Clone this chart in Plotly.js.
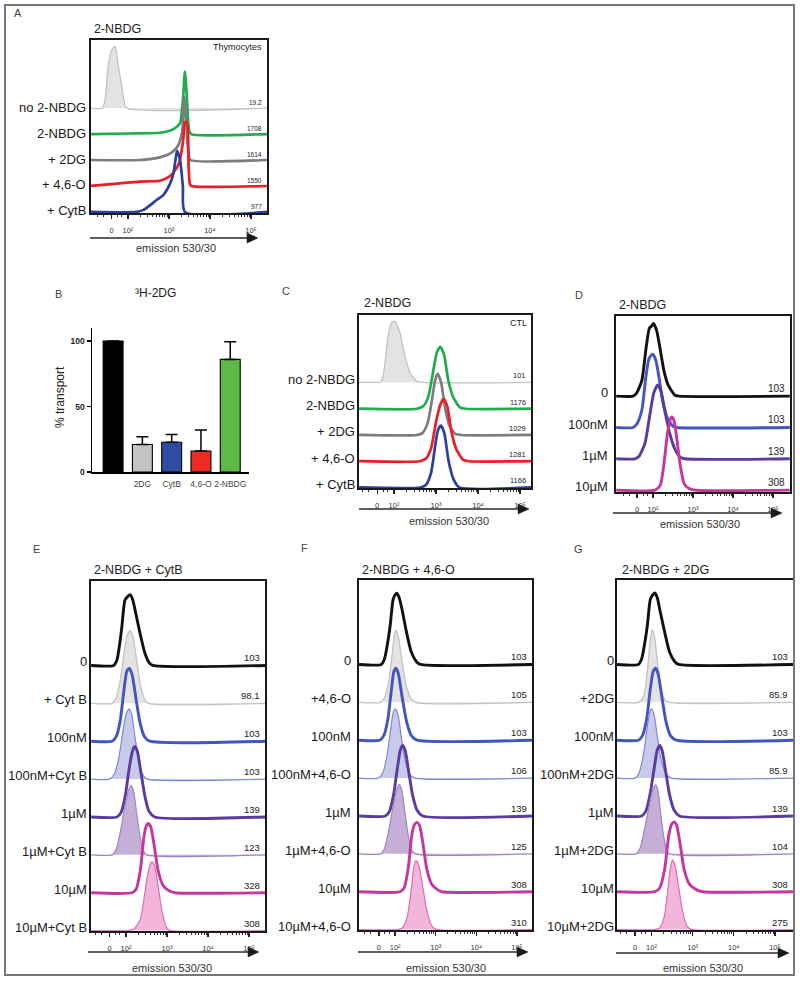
<!DOCTYPE html>
<html><head><meta charset="utf-8">
<script src="https://cdn.plot.ly/plotly-3.0.1.min.js"></script>
<style>html,body{margin:0;padding:0;background:#fff}</style>
</head><body><div id="chart" style="width:800px;height:983px"></div>
<script>
// ---------- shared axis labels ----------
const emissionTickVals = [1.6, 2, 3, 4, 5];
const emissionTickText = ['0', '10²', '10³', '10⁴', '10⁵'];

// ---------- Panel A (thymocytes) ----------
const aRows  = ['no 2-NBDG', '2-NBDG', '+ 2DG', '+ 4,6-O', '+ CytB'];
const aMeans = ['19.2', '1708', '1614', '1550', '977'];
const aX0 = [1.1, 1.38, 1.45, 1.52, 1.6, 1.685, 1.77, 1.85, 1.9, 1.97, 5.39];
const aY0 = [0, 0, 0.4, 1.59, 2.23, 2.38, 1.59, 0.82, 0.31, 0, 0];
const aX1 = [1.1, 2.05, 2.78, 3.0, 3.15, 3.27, 3.34, 3.39, 3.44, 3.49, 3.54, 5.39];
const aY1 = [0, 0.02, 0.05, 0.12, 0.23, 0.42, 1.3, 2.4, 1.3, 0.15, 0, 0];
const aX2 = [1.1, 2.3, 2.78, 3.08, 3.22, 3.32, 3.38, 3.44, 3.48, 3.52, 5.39];
const aY2 = [0, 0, 0.1, 0.3, 0.55, 1.08, 2.42, 1.0, 0.2, 0, 0];
const aX3 = [1.1, 1.8, 2.3, 2.78, 3.0, 3.12, 3.25, 3.35, 3.39, 3.44, 3.48, 3.51, 3.55, 5.39];
const aY3 = [0, 0.1, 0.17, 0.2, 0.35, 0.54, 0.9, 1.8, 2.46, 2.46, 0.77, 0.08, 0, 0];
const aX4 = [1.1, 2.2, 2.38, 2.7, 2.86, 3.03, 3.11, 3.17, 3.2, 3.27, 3.34, 3.39, 5.39];
const aY4 = [0, 0, 0.08, 0.46, 0.65, 1.1, 1.49, 2.13, 2.35, 2.0, 0.97, 0, 0];

// ---------- Panel B (3H-2DG transport) ----------
const bCats   = ['', '2DG', 'CytB', '4,6-O', '2-NBDG'];
const bValues = [100, 21, 22.7, 16, 86];
const bErrors = [0, 6, 6, 16, 13.5];
const bColors = ['#000000', '#c3c3c3', '#2e4ca2', '#ee2a24', '#5dba47'];

// ---------- Panel C (CTL) ----------
const cRows  = ['no 2-NBDG', '2-NBDG', '+ 2DG', '+ 4,6-O', '+ CytB'];
const cMeans = ['101', '1176', '1029', '1281', '1166'];
const cX0 = [1.17, 1.6, 1.67, 1.74, 1.86, 1.94, 2.02, 2.14, 2.26, 2.38, 2.54, 2.67, 5.26];
const cY0 = [0, 0, 0, 0.24, 1.77, 2.28, 2.33, 1.9, 1.0, 0.38, 0.05, 0, 0];
const cX1 = [1.17, 2.55, 2.7, 2.82, 2.94, 3.02, 3.1, 3.19, 3.29, 3.41, 3.57, 3.7, 5.26];
const cY1 = [0, 0, 0.1, 0.48, 1.5, 2.14, 2.36, 2.07, 1.1, 0.43, 0.05, 0, 0];
const cX2 = [1.17, 2.55, 2.68, 2.8, 2.9, 2.98, 3.04, 3.12, 3.22, 3.32, 3.45, 3.6, 5.26];
const cY2 = [0, 0, 0.08, 0.45, 1.3, 2.1, 2.33, 2.0, 1.0, 0.35, 0.05, 0, 0];
const cX3 = [1.17, 2.62, 2.76, 2.88, 3.0, 3.1, 3.18, 3.27, 3.37, 3.49, 3.65, 3.78, 5.26];
const cY3 = [0, 0, 0.1, 0.48, 1.5, 2.14, 2.38, 2.07, 1.1, 0.43, 0.05, 0, 0];
const cX4 = [1.17, 2.62, 2.76, 2.88, 2.98, 3.05, 3.12, 3.2, 3.3, 3.42, 3.56, 5.26];
const cY4 = [0, 0, 0.1, 0.55, 1.6, 2.2, 2.36, 2.05, 1.0, 0.3, 0, 0];

// ---------- Panel D (2-NBDG dose) ----------
const dRows  = ['0', '100nM', '1µM', '10µM'];
const dMeans = ['103', '103', '139', '308'];
const dX0 = [1.08, 1.5, 1.59, 1.72, 1.83, 1.91, 1.97, 2.01, 2.09, 2.17, 2.27, 2.38, 2.55, 2.65, 5.42];
const dY0 = [0, 0, 0.1, 0.5, 1.57, 2.17, 2.25, 2.32, 2.1, 1.57, 0.83, 0.35, 0.03, 0, 0];
const dX1 = [1.08, 1.5, 1.6, 1.72, 1.82, 1.9, 1.99, 2.07, 2.15, 2.25, 2.36, 2.5, 2.6, 5.42];
const dY1 = [0, 0, 0.12, 0.55, 1.6, 2.2, 2.34, 2.15, 1.6, 0.8, 0.3, 0.04, 0, 0];
const dX2 = [1.08, 1.55, 1.65, 1.8, 1.92, 2.02, 2.12, 2.2, 2.3, 2.42, 2.55, 2.68, 2.8, 5.42];
const dY2 = [0, 0, 0.08, 0.5, 1.4, 2.1, 2.36, 2.15, 1.5, 0.8, 0.3, 0.05, 0, 0];
const dX3 = [1.08, 2.05, 2.18, 2.28, 2.36, 2.43, 2.47, 2.53, 2.6, 2.68, 2.78, 2.9, 3.05, 5.42];
const dY3 = [0, 0, 0.15, 0.9, 1.8, 2.25, 2.34, 2.2, 1.6, 0.8, 0.2, 0.05, 0, 0];

// ---------- Panel E (2-NBDG + CytB) ----------
const eRows  = ['0', '+ Cyt B', '100nM', '100nM+Cyt B', '1µM', '1µM+Cyt B', '10µM', '10µM+Cyt B'];
const eMeans = ['103', '98.1', '103', '103', '139', '123', '328', '308'];
const eX0 = [1.15, 1.7, 1.78, 1.85, 1.9, 1.975, 2.05, 2.1, 2.16, 2.22, 2.34, 2.46, 2.56, 2.65, 5.39];
const eY0 = [0, 0, 0.15, 0.6, 1.03, 1.73, 1.83, 1.87, 1.75, 1.47, 0.86, 0.33, 0.08, 0, 0];
const eX1 = [1.15, 1.66, 1.75, 1.85, 1.95, 2.03, 2.1, 2.17, 2.25, 2.35, 2.45, 2.55, 5.39];
const eY1 = [0, 0, 0.12, 0.55, 1.3, 1.8, 1.91, 1.75, 1.2, 0.5, 0.12, 0, 0];
const eX2 = [1.15, 1.66, 1.76, 1.86, 1.95, 2.02, 2.08, 2.15, 2.24, 2.34, 2.45, 2.58, 5.39];
const eY2 = [0, 0, 0.12, 0.55, 1.35, 1.85, 1.92, 1.75, 1.15, 0.5, 0.12, 0, 0];
const eX3 = [1.15, 1.6, 1.72, 1.83, 1.93, 2.01, 2.08, 2.14, 2.22, 2.32, 2.42, 2.52, 5.39];
const eY3 = [0, 0, 0.15, 0.6, 1.3, 1.75, 1.85, 1.7, 1.1, 0.45, 0.1, 0, 0];
const eX4 = [1.15, 1.78, 1.88, 1.98, 2.08, 2.16, 2.22, 2.28, 2.36, 2.46, 2.56, 2.7, 5.39];
const eY4 = [0, 0, 0.12, 0.55, 1.3, 1.75, 1.86, 1.72, 1.2, 0.55, 0.15, 0, 0];
const eX5 = [1.15, 1.66, 1.76, 1.86, 1.96, 2.06, 2.12, 2.18, 2.26, 2.34, 2.42, 2.5, 5.39];
const eY5 = [0, 0, 0.15, 0.6, 1.2, 1.7, 1.83, 1.7, 1.1, 0.5, 0.12, 0, 0];
const eX6 = [1.15, 2.15, 2.25, 2.35, 2.44, 2.5, 2.54, 2.6, 2.68, 2.78, 2.9, 3.05, 3.2, 5.39];
const eY6 = [0, 0, 0.1, 0.6, 1.5, 1.78, 1.83, 1.75, 1.3, 0.6, 0.2, 0.05, 0, 0];
const eX7 = [1.15, 2.05, 2.2, 2.35, 2.46, 2.55, 2.63, 2.7, 2.78, 2.88, 2.98, 3.08, 5.39];
const eY7 = [0, 0, 0.05, 0.3, 1.0, 1.6, 1.82, 1.7, 1.2, 0.5, 0.1, 0, 0];

// ---------- Panel F (2-NBDG + 4,6-O) ----------
const fRows  = ['0', '+4,6-O', '100nM', '100nM+4,6-O', '1µM', '1µM+4,6-O', '10µM', '10µM+4,6-O'];
const fMeans = ['103', '105', '103', '106', '139', '125', '308', '310'];
const fX0 = [1.11, 1.66, 1.74, 1.82, 1.88, 1.95, 2.0, 2.04, 2.1, 2.17, 2.28, 2.4, 2.52, 2.62, 5.37];
const fY0 = [0, 0, 0.15, 0.6, 1.05, 1.72, 1.84, 1.88, 1.76, 1.45, 0.85, 0.32, 0.08, 0, 0];
const fX1 = [1.11, 1.64, 1.74, 1.84, 1.93, 1.98, 2.02, 2.08, 2.16, 2.26, 2.38, 2.5, 5.37];
const fY1 = [0, 0, 0.12, 0.55, 1.3, 1.78, 1.9, 1.72, 1.15, 0.5, 0.12, 0, 0];
const fX2 = [1.11, 1.62, 1.72, 1.82, 1.91, 1.97, 2.02, 2.08, 2.17, 2.28, 2.4, 2.54, 5.37];
const fY2 = [0, 0, 0.12, 0.55, 1.35, 1.82, 1.9, 1.75, 1.15, 0.5, 0.12, 0, 0];
const fX3 = [1.11, 1.58, 1.7, 1.8, 1.89, 1.95, 2.0, 2.07, 2.15, 2.25, 2.36, 2.48, 5.37];
const fY3 = [0, 0, 0.15, 0.6, 1.3, 1.72, 1.83, 1.68, 1.1, 0.45, 0.1, 0, 0];
const fX4 = [1.11, 1.76, 1.86, 1.96, 2.06, 2.13, 2.19, 2.25, 2.33, 2.43, 2.54, 2.68, 5.37];
const fY4 = [0, 0, 0.12, 0.55, 1.3, 1.75, 1.86, 1.72, 1.2, 0.55, 0.15, 0, 0];
const fX5 = [1.11, 1.64, 1.74, 1.84, 1.94, 2.04, 2.1, 2.16, 2.24, 2.32, 2.4, 2.5, 5.37];
const fY5 = [0, 0, 0.15, 0.6, 1.2, 1.7, 1.83, 1.7, 1.1, 0.5, 0.12, 0, 0];
const fX6 = [1.11, 2.12, 2.22, 2.32, 2.41, 2.48, 2.53, 2.6, 2.68, 2.78, 2.9, 3.05, 3.15, 5.37];
const fY6 = [0, 0, 0.1, 0.6, 1.5, 1.78, 1.83, 1.75, 1.3, 0.6, 0.2, 0.05, 0, 0];
const fX7 = [1.11, 2.05, 2.18, 2.3, 2.4, 2.46, 2.51, 2.58, 2.67, 2.78, 2.9, 3.02, 5.37];
const fY7 = [0, 0, 0.05, 0.35, 1.1, 1.65, 1.82, 1.7, 1.2, 0.5, 0.1, 0, 0];

// ---------- Panel G (2-NBDG + 2DG) ----------
const gRows  = ['0', '+2DG', '100nM', '100nM+2DG', '1µM', '1µM+2DG', '10µM', '10µM+2DG'];
const gMeans = ['103', '85.9', '103', '85.9', '139', '104', '308', '275'];
const gX0 = [1.16, 1.68, 1.76, 1.84, 1.9, 1.97, 2.03, 2.08, 2.14, 2.2, 2.32, 2.44, 2.56, 2.66, 5.44];
const gY0 = [0, 0, 0.15, 0.6, 1.05, 1.72, 1.84, 1.89, 1.76, 1.45, 0.85, 0.32, 0.08, 0, 0];
const gX1 = [1.16, 1.68, 1.78, 1.86, 1.93, 1.98, 2.02, 2.07, 2.14, 2.22, 2.32, 2.44, 5.44];
const gY1 = [0, 0, 0.1, 0.45, 1.2, 1.75, 1.92, 1.75, 1.1, 0.4, 0.08, 0, 0];
const gX2 = [1.16, 1.68, 1.78, 1.88, 1.97, 2.04, 2.1, 2.16, 2.25, 2.35, 2.46, 2.6, 5.44];
const gY2 = [0, 0, 0.12, 0.55, 1.35, 1.82, 1.9, 1.75, 1.15, 0.5, 0.12, 0, 0];
const gX3 = [1.16, 1.6, 1.7, 1.8, 1.89, 1.95, 2.0, 2.06, 2.14, 2.24, 2.36, 2.48, 5.44];
const gY3 = [0, 0, 0.15, 0.6, 1.3, 1.72, 1.83, 1.68, 1.1, 0.45, 0.1, 0, 0];
const gX4 = [1.16, 1.76, 1.86, 1.96, 2.07, 2.14, 2.2, 2.26, 2.34, 2.44, 2.55, 2.68, 5.44];
const gY4 = [0, 0, 0.12, 0.55, 1.3, 1.75, 1.86, 1.72, 1.2, 0.55, 0.15, 0, 0];
const gX5 = [1.16, 1.62, 1.72, 1.82, 1.93, 2.03, 2.1, 2.15, 2.22, 2.29, 2.36, 2.44, 5.44];
const gY5 = [0, 0, 0.15, 0.6, 1.2, 1.7, 1.82, 1.7, 1.1, 0.5, 0.12, 0, 0];
const gX6 = [1.16, 2.08, 2.2, 2.32, 2.42, 2.49, 2.55, 2.61, 2.69, 2.79, 2.92, 3.1, 3.25, 5.44];
const gY6 = [0, 0, 0.1, 0.6, 1.5, 1.78, 1.84, 1.75, 1.3, 0.6, 0.2, 0.05, 0, 0];
const gX7 = [1.16, 2.08, 2.2, 2.31, 2.4, 2.46, 2.51, 2.57, 2.65, 2.75, 2.86, 2.98, 5.44];
const gY7 = [0, 0, 0.05, 0.35, 1.1, 1.65, 1.84, 1.7, 1.2, 0.5, 0.1, 0, 0];

// ---------- styles ----------
const STY = {
  fillGrey:   {line: '#c2c2c2', w: 1.3, fill: '#e3e3e3'},
  green:      {line: '#1fae4b', w: 2.7},
  grey:       {line: '#7d7d7d', w: 2.7},
  red:        {line: '#ee1d23', w: 2.7},
  navy:       {line: '#2b409f', w: 2.7},
  black:      {line: '#111111', w: 2.9},
  blue:       {line: '#4255c2', w: 2.9},
  purple:     {line: '#5a3c9e', w: 2.9},
  magenta:    {line: '#c5389b', w: 2.9},
  fillBlue:   {line: '#8188d6', w: 1.2, fill: '#c8caeb'},
  fillPurple: {line: '#9c86c5', w: 1.2, fill: '#c6afd6'},
  fillPink:   {line: '#dd6db8', w: 1.2, fill: '#f3b5da'}
};
const FONT = 'Liberation Sans, Arial, Helvetica, DejaVu Sans, sans-serif';
const W = 800, H = 983;
const px = v => v / W;
const py = v => 1 - v / H;

const panels = [
  {id: '', box: [91, 267, 40, 213], xr: [1.1, 5.39], yr: [-0.04, 6.62], rows: aRows, means: aMeans,
   curves: [[aX0, aY0, 'fillGrey'], [aX1, aY1, 'green'], [aX2, aY2, 'grey'], [aX3, aY3, 'red'], [aX4, aY4, 'navy']],
   labX: 88, labShift: 1, labSize: 13, valSize: 6.5,
   arrow: [90, 258, 238], emis: [176, 248], title: ['2-NBDG', 92, 29], letter: ['A', 12, 13]},
  {id: '3', box: [359, 531, 315, 488], xr: [1.167, 5.26], yr: [-0.02, 6.57], rows: cRows, means: cMeans,
   curves: [[cX0, cY0, 'fillGrey'], [cX1, cY1, 'green'], [cX2, cY2, 'grey'], [cX3, cY3, 'red'], [cX4, cY4, 'navy']],
   labX: 356.5, labShift: 3, labSize: 13, valSize: 7.5,
   arrow: [359, 529, 509], emis: [449, 521], title: ['2-NBDG', 362, 303], letter: ['C', 280, 291]},
  {id: '4', box: [616, 790, 316, 492], xr: [1.075, 5.425], yr: [-0.06, 5.56], rows: dRows, means: dMeans,
   curves: [[dX0, dY0, 'black'], [dX1, dY1, 'blue'], [dX2, dY2, 'purple'], [dX3, dY3, 'magenta']],
   labX: 610, labShift: 3.3, labSize: 13, valSize: 10,
   arrow: [613, 782, 513], emis: [700, 524], title: ['2-NBDG', 617, 305], letter: ['D', 573, 295]},
  {id: '5', box: [91, 265, 581, 931], xr: [1.146, 5.39], yr: [-0.01, 9.23], rows: eRows, means: eMeans,
   curves: [[eX0, eY0, 'black'], [eX1, eY1, 'fillGrey'], [eX2, eY2, 'blue'], [eX3, eY3, 'fillBlue'],
            [eX4, eY4, 'purple'], [eX5, eY5, 'fillPurple'], [eX6, eY6, 'magenta'], [eX7, eY7, 'fillPink']],
   labX: 89, labShift: 3.5, labSize: 13, valSize: 9.5,
   arrow: [88, 259, 952], emis: [172, 968], title: ['2-NBDG + CytB', 92, 570], letter: ['E', 31, 549]},
  {id: '6', box: [359, 532, 580, 930], xr: [1.11, 5.37], yr: [-0.01, 9.23], rows: fRows, means: fMeans,
   curves: [[fX0, fY0, 'black'], [fX1, fY1, 'fillGrey'], [fX2, fY2, 'blue'], [fX3, fY3, 'fillBlue'],
            [fX4, fY4, 'purple'], [fX5, fY5, 'fillPurple'], [fX6, fY6, 'magenta'], [fX7, fY7, 'fillPink']],
   labX: 353, labShift: 3.5, labSize: 13, valSize: 9.5,
   arrow: [358, 528, 952], emis: [446, 968], title: ['2-NBDG + 4,6-O', 360, 570], letter: ['F', 299, 548]},
  {id: '7', box: [617, 793, 580, 930], xr: [1.16, 5.44], yr: [-0.01, 9.23], rows: gRows, means: gMeans,
   curves: [[gX0, gY0, 'black'], [gX1, gY1, 'fillGrey'], [gX2, gY2, 'blue'], [gX3, gY3, 'fillBlue'],
            [gX4, gY4, 'purple'], [gX5, gY5, 'fillPurple'], [gX6, gY6, 'magenta'], [gX7, gY7, 'fillPink']],
   labX: 615.5, labShift: 3.5, labSize: 13, valSize: 9.5,
   arrow: [616, 789, 953], emis: [703, 968], title: ['2-NBDG + 2DG', 620, 570], letter: ['G', 572, 549]}
];

// minor ticks of the biexponential axis
const minorVals = [1.25, 1.4, 1.75, 1.85];
for (let d = 2; d <= 4; d++) for (let k = 2; k <= 9; k++) minorVals.push(d + Math.log10(k));

const traces = [];
const annotations = [];
const shapes = [{type: 'rect', xref: 'paper', yref: 'paper', x0: px(5), x1: px(794), y0: py(975), y1: py(5),
                 line: {color: '#777777', width: 2}}];
const layout = {
  width: W, height: H, margin: {l: 0, r: 0, t: 0, b: 0},
  paper_bgcolor: '#ffffff', plot_bgcolor: 'rgba(0,0,0,0)',
  showlegend: false, font: {family: FONT, color: '#222'},
  annotations: annotations, shapes: shapes
};

function ann(o) { annotations.push(Object.assign({showarrow: false, xref: 'paper', yref: 'paper'}, o)); }

function arrowShapes(x0, x1, y) {
  const headL = 11, headH = 5;
  shapes.push({type: 'line', xref: 'paper', yref: 'paper', x0: px(x0), x1: px(x1 - headL + 1), y0: py(y), y1: py(y),
               line: {color: '#2a2a2a', width: 1.6}});
  shapes.push({type: 'path', xref: 'paper', yref: 'paper',
               path: 'M ' + px(x1 - headL) + ' ' + py(y - headH) + ' L ' + px(x1) + ' ' + py(y) +
                     ' L ' + px(x1 - headL) + ' ' + py(y + headH) + ' Z',
               fillcolor: '#1a1a1a', line: {color: '#1a1a1a', width: 0.5}});
}

panels.forEach(p => {
  const xa = 'x' + p.id, ya = 'y' + p.id;
  const n = p.rows.length;
  layout['xaxis' + p.id] = {
    domain: [px(p.box[0]), px(p.box[1])], range: p.xr, anchor: ya,
    showgrid: false, zeroline: false, showline: true, mirror: true, linecolor: '#1a1a1a', linewidth: 1.6,
    tickmode: 'array', tickvals: emissionTickVals, ticktext: emissionTickText,
    ticks: 'outside', ticklen: 4, tickwidth: 1.3, tickcolor: '#222', ticklabelstandoff: 5,
    tickfont: {size: 7.5, color: '#333', family: FONT},
    minor: {tickmode: 'array', tickvals: minorVals, ticks: 'outside', ticklen: 2.5, tickwidth: 1, tickcolor: '#333'},
    fixedrange: true
  };
  layout['yaxis' + p.id] = {
    domain: [py(p.box[3]), py(p.box[2])], range: p.yr, anchor: xa,
    showgrid: false, zeroline: false, showline: true, mirror: true, linecolor: '#1a1a1a', linewidth: 1.6,
    tickmode: 'array', tickvals: [], showticklabels: false, ticks: '', fixedrange: true
  };
  p.curves.forEach((c, i) => {
    const off = n - 1 - i;
    const s = STY[c[2]];
    const t = {
      type: 'scatter', mode: 'lines', x: c[0], y: c[1].map(v => v + off), xaxis: xa, yaxis: ya,
      line: {color: s.line, width: s.w, shape: 'spline', smoothing: 0.6}, hoverinfo: 'skip'
    };
    if (s.fill) { t.fill = 'toself'; t.fillcolor = s.fill; }
    traces.push(t);
    ann({text: p.rows[i], xref: 'paper', yref: ya, x: px(p.labX), y: off, xanchor: 'right', yanchor: 'middle',
         yshift: p.labShift, font: {size: p.labSize, color: '#1a1a1a', family: FONT}});
    ann({text: p.means[i], xref: 'paper', yref: ya, x: px(p.box[1] - 3), y: off, xanchor: 'right', yanchor: 'bottom',
         yshift: 0, font: {size: p.valSize, color: '#222', family: FONT}});
  });
  arrowShapes(p.arrow[0], p.arrow[1], p.arrow[2]);
  ann({text: 'emission 530/30', x: px(p.emis[0]), y: py(p.emis[1]), xanchor: 'center', yanchor: 'middle',
       font: {size: 11, color: '#333', family: FONT}});
  ann({text: p.title[0], x: px(p.title[1]), y: py(p.title[2]), xanchor: 'left', yanchor: 'middle',
       font: {size: 12.5, color: '#222', family: FONT}});
  ann({text: p.letter[0], x: px(p.letter[1]), y: py(p.letter[2]), xanchor: 'left', yanchor: 'middle',
       font: {size: 11, color: '#444', family: FONT}});
});

ann({text: 'Thymocytes', x: px(264), y: py(47), xanchor: 'right', yanchor: 'middle', font: {size: 9, color: '#222', family: FONT}});
ann({text: 'CTL', x: px(529), y: py(323), xanchor: 'right', yanchor: 'middle', font: {size: 9, color: '#222', family: FONT}});

// ---------- Panel B ----------
traces.push({
  type: 'bar', x: [0, 1, 2, 3, 4], y: bValues, xaxis: 'x2', yaxis: 'y2', width: 0.68,
  marker: {color: bColors, line: {color: '#000', width: 1.1}},
  error_y: {type: 'data', array: bErrors, arrayminus: bValues.map(() => 0), symmetric: false,
            color: '#000', thickness: 1.5, width: 6},
  hoverinfo: 'skip'
});
layout.xaxis2 = {
  domain: [px(92), px(249)], range: [-0.72, 4.64], anchor: 'y2',
  showgrid: false, zeroline: false, showline: true, linecolor: '#000', linewidth: 1.5,
  tickmode: 'array', tickvals: [1, 2, 3, 4], ticktext: bCats.slice(1), ticks: '', ticklabelstandoff: 3,
  tickfont: {size: 8.5, color: '#444', family: FONT}, fixedrange: true
};
layout.yaxis2 = {
  domain: [py(472), py(328)], range: [0, 110], anchor: 'x2',
  showgrid: false, zeroline: false, showline: true, linecolor: '#000', linewidth: 1.5,
  tickmode: 'array', tickvals: [0, 50, 100], ticktext: ['<b>0</b>', '<b>50</b>', '<b>100</b>'],
  ticks: 'outside', ticklen: 4, tickwidth: 1.5, tickcolor: '#000',
  tickfont: {size: 8.5, color: '#222', family: FONT}, fixedrange: true
};
ann({text: '% transport', x: px(60), y: py(397), textangle: -90, xanchor: 'center', yanchor: 'middle',
     font: {size: 12, color: '#222', family: FONT}});
ann({text: '³H-2DG', x: px(155), y: py(293), xanchor: 'center', yanchor: 'middle',
     font: {size: 12, color: '#222', family: FONT}});
ann({text: 'B', x: px(53), y: py(294), xanchor: 'left', yanchor: 'middle', font: {size: 11, color: '#444', family: FONT}});

Plotly.newPlot('chart', traces, layout, {staticPlot: true, displayModeBar: false});
</script>
</body></html>
